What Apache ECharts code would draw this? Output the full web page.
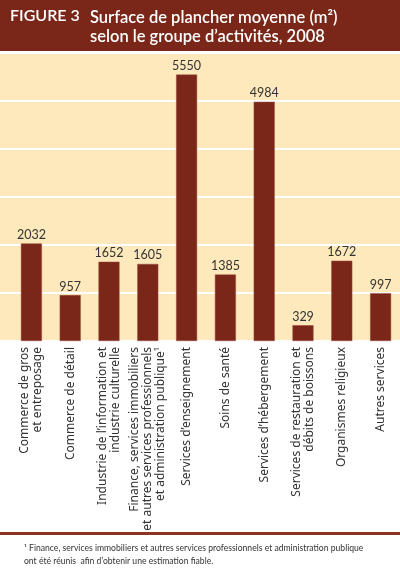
<!DOCTYPE html>
<html>
<head>
<meta charset="utf-8">
<script src="https://cdn.jsdelivr.net/npm/echarts@6/dist/echarts.min.js"></script>
<style>
  html, body { margin: 0; padding: 0; background: #fff; }
  #chart { width: 400px; height: 569px; }
</style>
</head>
<body>
<div id="chart"></div>
<script>
// activity groups (x axis)
const categories = [
  "Commerce de gros\net entreposage",
  "Commerce de détail",
  "Industrie de l\u2019information et\nindustrie culturelle",
  "Finance, services immobiliers\net autres services professionnels\net administration publique\u00b9",
  "Services d\u2019enseignement",
  "Soins de santé",
  "Services d\u2019hébergement",
  "Services de restauration et\ndébits de boissons",
  "Organismes religieux",
  "Autres services"
];
// average floor area, m2
const surface = [2032, 957, 1652, 1605, 5550, 1385, 4984, 329, 1672, 997];
const yTicks = [0, 1000, 2000, 3000, 4000, 5000, 6000];

const brown = "#7a2719";
const cream = "#fee9bd";
const font = "Lato";

const chart = echarts.init(document.getElementById("chart"));

const option = {
  animation: false,
  backgroundColor: "#fff",
  textStyle: { fontFamily: font },
  title: [
    {
      text: "FIGURE 3",
      left: 10, top: 8, padding: 0,
      textStyle: { color: "#fff", fontSize: 16, fontWeight: 600, fontFamily: font }
    },
    {
      text: "Surface de plancher moyenne (m\u00b2)\nselon le groupe d\u2019activités, 2008",
      left: 90, top: 8, padding: 0,
      textStyle: { color: "#fff", fontSize: 16.5, fontWeight: 600, lineHeight: 19, fontFamily: font }
    }
  ],
  graphic: [
    { type: "rect", z: -10, shape: { x: 0, y: 0, width: 400, height: 51 }, style: { fill: brown } },
    { type: "rect", z: -10, shape: { x: 0, y: 532, width: 400, height: 3 }, style: { fill: "#8a3424" } },
    {
      type: "text", left: 24, top: 542,
      style: {
        text: "\u00b9 Finance, services immobiliers et autres services professionnels et administration publique\nont été réunis  afin d\u2019obtenir une estimation fiable.",
        fill: "#333", font: "8.6px " + font, lineHeight: 13
      }
    }
  ],
  grid: [
    // background + gridlines over the full width
    { left: 0, right: 0, top: 53, bottom: 228, show: true, backgroundColor: cream, borderWidth: 0 },
    // bars
    { left: 12, right: 0, top: 53, bottom: 228 }
  ],
  xAxis: [
    { gridIndex: 0, type: "value", min: 0, max: 1, show: false },
    {
      gridIndex: 1, type: "category", data: categories,
      axisLine: { show: false }, axisTick: { show: false },
      axisLabel: {
        interval: 0, rotate: 90, margin: 6,
        color: "#333", fontSize: 12, lineHeight: 13, fontFamily: "Noto Sans"
      }
    }
  ],
  yAxis: [
    {
      gridIndex: 0, type: "value", min: yTicks[0], max: yTicks[yTicks.length - 1], interval: 1000,
      axisLabel: { show: false }, axisLine: { show: false }, axisTick: { show: false },
      splitLine: { lineStyle: { color: "#fff", width: 2 } }
    },
    {
      gridIndex: 1, type: "value", min: yTicks[0], max: yTicks[yTicks.length - 1], interval: 1000,
      show: false, splitLine: { show: false }
    }
  ],
  series: [
    {
      type: "bar", xAxisIndex: 1, yAxisIndex: 1,
      data: surface, barWidth: 21,
      itemStyle: { color: brown, borderColor: "#9a4a38", borderWidth: 0.5 },
      label: {
        show: true, position: "top", distance: 2,
        color: "#333", fontSize: 12.5, fontFamily: font
      }
    }
  ]
};

chart.setOption(option);
</script>
</body>
</html>
